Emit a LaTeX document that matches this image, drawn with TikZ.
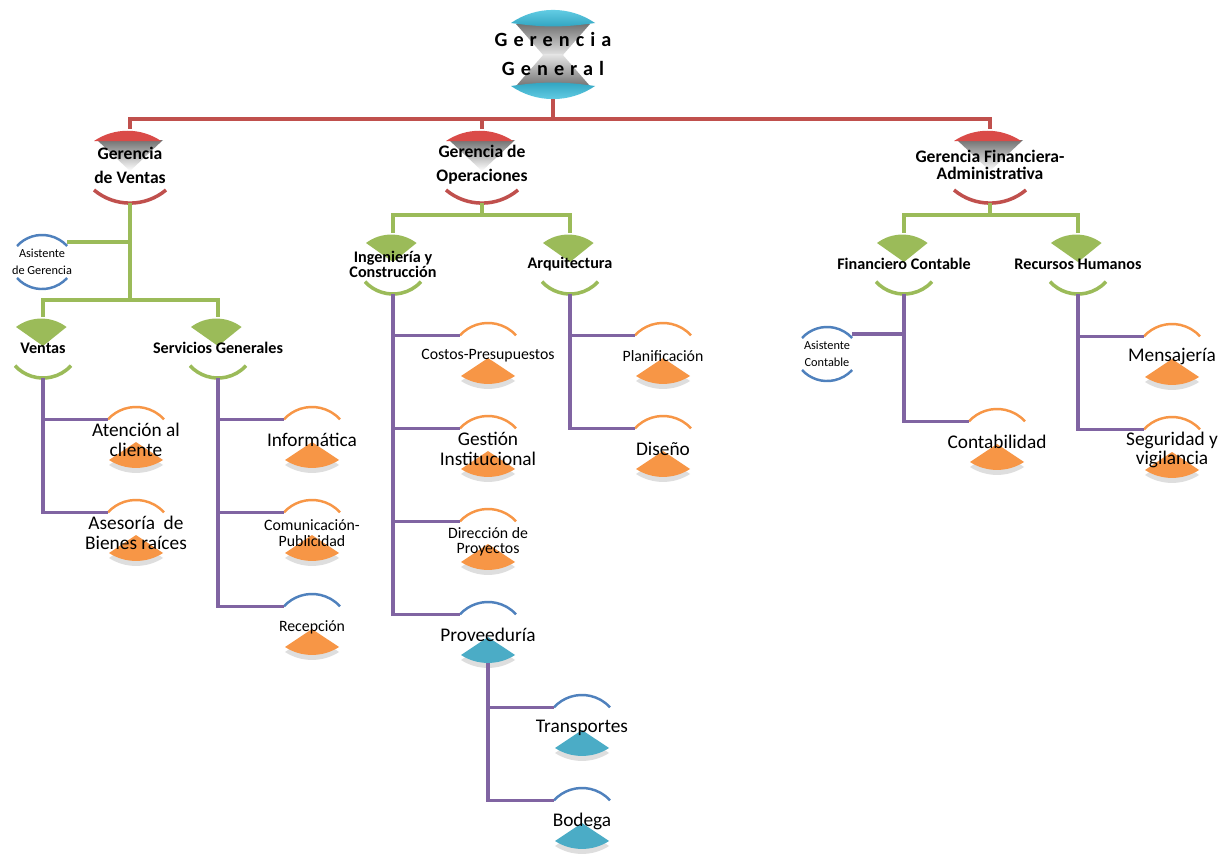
\documentclass[tikz,border=0pt]{standalone}
\usepackage{fontspec}
\setmainfont{Carlito}
\newfontfamily\spacedfont[LetterSpace=30]{Carlito}

\definecolor{capred}{HTML}{DA4B48}
\definecolor{linered}{HTML}{C0504D}
\definecolor{leafgreen}{HTML}{9BBB59}
\definecolor{linepurple}{HTML}{8064A2}
\definecolor{unitorange}{HTML}{F79646}
\definecolor{unitblue}{HTML}{4F81BD}
\definecolor{unitteal}{HTML}{4BACC6}
\definecolor{toplight}{HTML}{6FD6EC}
\definecolor{topdark}{HTML}{2FA3C0}

\tikzset{
  x=0.02cm, y=0.02cm,
  redline/.style={draw=linered, line width=2pt},
  greenline/.style={draw=leafgreen, line width=2pt},
  purpleline/.style={draw=linepurple, line width=2pt},
  thinarc/.style={line width=1.4pt},
  ggtext/.style={font=\spacedfont\fontsize{11.5}{16.5}\selectfont\bfseries, align=center, inner sep=0pt},
  gertext/.style={font=\fontsize{10}{13.7}\selectfont\bfseries, align=center, inner sep=0pt},
  fantext/.style={font=\fontsize{9.2}{8.6}\selectfont\bfseries, align=center, inner sep=0pt},
  bigtext/.style={font=\fontsize{11}{11.2}\selectfont, align=center, inner sep=0pt},
  midtext/.style={font=\fontsize{9}{8.8}\selectfont, align=center, inner sep=0pt},
  smalltext/.style={font=\fontsize{7}{9.6}\selectfont, align=center, inner sep=0pt},
}

% red unit: filled cap above, arc below
\newcommand{\capunit}[4]{%
  \begin{scope}[shift={(#2,-#3)}]
    \shade[top color=black!55, bottom color=white] (-33,-11) -- (33,-11) -- (0,-42) -- cycle;
    \fill[capred] (-36,-12) arc[start angle=124, end angle=56, radius=60] -- cycle;
    \draw[redline] (-36,-61) arc[start angle=230, end angle=310, radius=56];
  \end{scope}
  \coordinate (#1-top) at (#2,-#3);
  \coordinate (#1-bot) at (#2,-#3-74);
  \node[gertext] (#1) at (#2,-#3-36) {#4};
}

% green unit: filled fan above, arc below
\newcommand{\fanunit}[4]{%
  \begin{scope}[shift={(#2,-#3)}]
    \fill[leafgreen] (0,-29) -- (-27,-10) arc[start angle=127, end angle=53, radius=42] -- cycle;
    \draw[greenline] (-28,-48.7) arc[start angle=222.5, end angle=317.5, radius=38];
  \end{scope}
  \coordinate (#1-top) at (#2,-#3);
  \coordinate (#1-bot) at (#2,-#3-61);
  \node[fantext] (#1) at (#2,-#3-31) {#4};
}

% lower unit: thin arc above, filled fan below
\newcommand{\lowunit}[7][bigtext]{%
  \begin{scope}[shift={(#3,-#4)}]
    \draw[#5, thinarc] (-28,-12.3) arc[start angle=137.5, end angle=42.5, radius=38];
    \fill[black!13] (0,-40) -- (-27,-58) arc[start angle=237.3, end angle=302.7, radius=50] -- cycle;
    \fill[#6] (0,-35) -- (-27,-53) arc[start angle=237.3, end angle=302.7, radius=50] -- cycle;
  \end{scope}
  \coordinate (#2-in) at (#3-28,-#4-12.3);
  \coordinate (#2-bot) at (#3,-#4-61);
  \node[#1] (#2) at (#3,-#4-33) {#7};
}

% assistant: two thin blue arcs
\newcommand{\asistunit}[4]{%
  \begin{scope}[shift={(#2,-#3)}]
    \draw[unitblue, thinarc] (-25,-11) arc[start angle=137.5, end angle=42.5, radius=34];
    \draw[unitblue, thinarc] (-25,-43) arc[start angle=222.5, end angle=317.5, radius=34];
  \end{scope}
  \coordinate (#1-east) at (#2+25,-#3-7);
  \node[smalltext] (#1) at (#2,-#3-27) {#4};
}

\begin{document}
\begin{tikzpicture}
    \useasboundingbox (0,0) rectangle (1223,-859);
    \fill[white] (0,0) rectangle (1223,-859);

    % Gerencia General
    \shade[top color=black!55, bottom color=black!10] (516,-24) -- (590,-24) -- (562,-56) -- (544,-56) -- cycle;
    \shade[top color=black!10, bottom color=black!55] (516,-86) -- (590,-86) -- (562,-54) -- (544,-54) -- cycle;
    \shade[top color=toplight, bottom color=topdark] (511,-23) arc[start angle=124.6, end angle=55.4, radius=74] to[bend left=8] (511,-23);
    \shade[top color=topdark, bottom color=toplight] (511,-86) arc[start angle=235.4, end angle=304.6, radius=74] to[bend right=8] (511,-86);
    \node[ggtext] (gg) at (553,-54) {Gerencia\\General};
    \coordinate (gg-bot) at (553,-99);

    % Gerencias
    \capunit{gv}{130}{129}{Gerencia\\de Ventas}
    \capunit{go}{482}{129}{Gerencia de\\Operaciones}
    \capunit{gf}{990}{129}{Gerencia Financiera-\\[-4pt]Administrativa}

    % Departamentos
    \fanunit{ventas}{43}{317}{Ventas}
    \fanunit{servicios}{218}{317}{Servicios Generales}
    \fanunit{ingenieria}{393}{233}{Ingeniería y\\Construcción}
    \fanunit{arquitectura}{570}{233}{Arquitectura}
    \fanunit{financiero}{904}{233}{Financiero Contable}
    \fanunit{recursos}{1078}{233}{Recursos Humanos}

    % Asistentes
    \asistunit{asg}{42}{235}{Asistente\\de Gerencia}
    \asistunit{asc}{827}{327}{Asistente\\Contable}

    % Secciones
    \lowunit{atencion}{136}{407}{unitorange}{unitorange}{Atención al\\cliente}
    \lowunit{asesoria}{136}{500}{unitorange}{unitorange}{Asesoría\hspace{0.45em}de\\Bienes raíces}
    \lowunit{informatica}{312}{407}{unitorange}{unitorange}{Informática}
    \lowunit[midtext]{comunicacion}{312}{500}{unitorange}{unitorange}{Comunicación-\\Publicidad}
    \lowunit[midtext]{recepcion}{312}{594}{unitblue}{unitorange}{Recepción}
    \lowunit[midtext]{costos}{488}{323}{unitorange}{unitorange}{Costos-Presupuestos}
    \lowunit{gestion}{488}{416}{unitorange}{unitorange}{Gestión\\Institucional}
    \lowunit[midtext]{direccion}{488}{509}{unitorange}{unitorange}{Dirección de\\Proyectos}
    \lowunit{proveeduria}{488}{602}{unitblue}{unitteal}{Proveeduría}
    \lowunit{transportes}{582}{695}{unitblue}{unitteal}{Transportes}
    \lowunit{bodega}{582}{788}{unitblue}{unitteal}{Bodega}
    \lowunit[midtext]{planificacion}{663}{323}{unitorange}{unitorange}{Planificación}
    \lowunit{diseno}{663}{416}{unitorange}{unitorange}{Diseño}
    \lowunit{contabilidad}{997}{409}{unitorange}{unitorange}{Contabilidad}
    \lowunit{mensajeria}{1172}{324}{unitorange}{unitorange}{Mensajería}
    \lowunit{seguridad}{1172}{417}{unitorange}{unitorange}{Seguridad y\\vigilancia}

    % Red connectors
    \foreach \g in {gv,go,gf}
        \draw[redline] (gg-bot) -- ++(0,-20) -| (\g-top);

    % Green connectors
    \foreach \d in {ventas,servicios}
        \draw[greenline] (gv-bot) -- ++(0,-97) -| (\d-top);
    \draw[greenline] (gv-bot) |- (asg-east);
    \foreach \d in {ingenieria,arquitectura}
        \draw[greenline] (go-bot) -- ++(0,-12) -| (\d-top);
    \foreach \d in {financiero,recursos}
        \draw[greenline] (gf-bot) -- ++(0,-12) -| (\d-top);

    % Purple connectors
    \foreach \s in {atencion,asesoria}
        \draw[purpleline] (ventas-bot) |- (\s-in);
    \foreach \s in {informatica,comunicacion,recepcion}
        \draw[purpleline] (servicios-bot) |- (\s-in);
    \foreach \s in {costos,gestion,direccion,proveeduria}
        \draw[purpleline] (ingenieria-bot) |- (\s-in);
    \foreach \s in {transportes,bodega}
        \draw[purpleline] (proveeduria-bot) |- (\s-in);
    \foreach \s in {planificacion,diseno}
        \draw[purpleline] (arquitectura-bot) |- (\s-in);
    \foreach \s in {mensajeria,seguridad}
        \draw[purpleline] (recursos-bot) |- (\s-in);
    \draw[purpleline] (financiero-bot) |- (contabilidad-in);
    \draw[purpleline] (financiero-bot) |- (asc-east);
\end{tikzpicture}
\end{document}
